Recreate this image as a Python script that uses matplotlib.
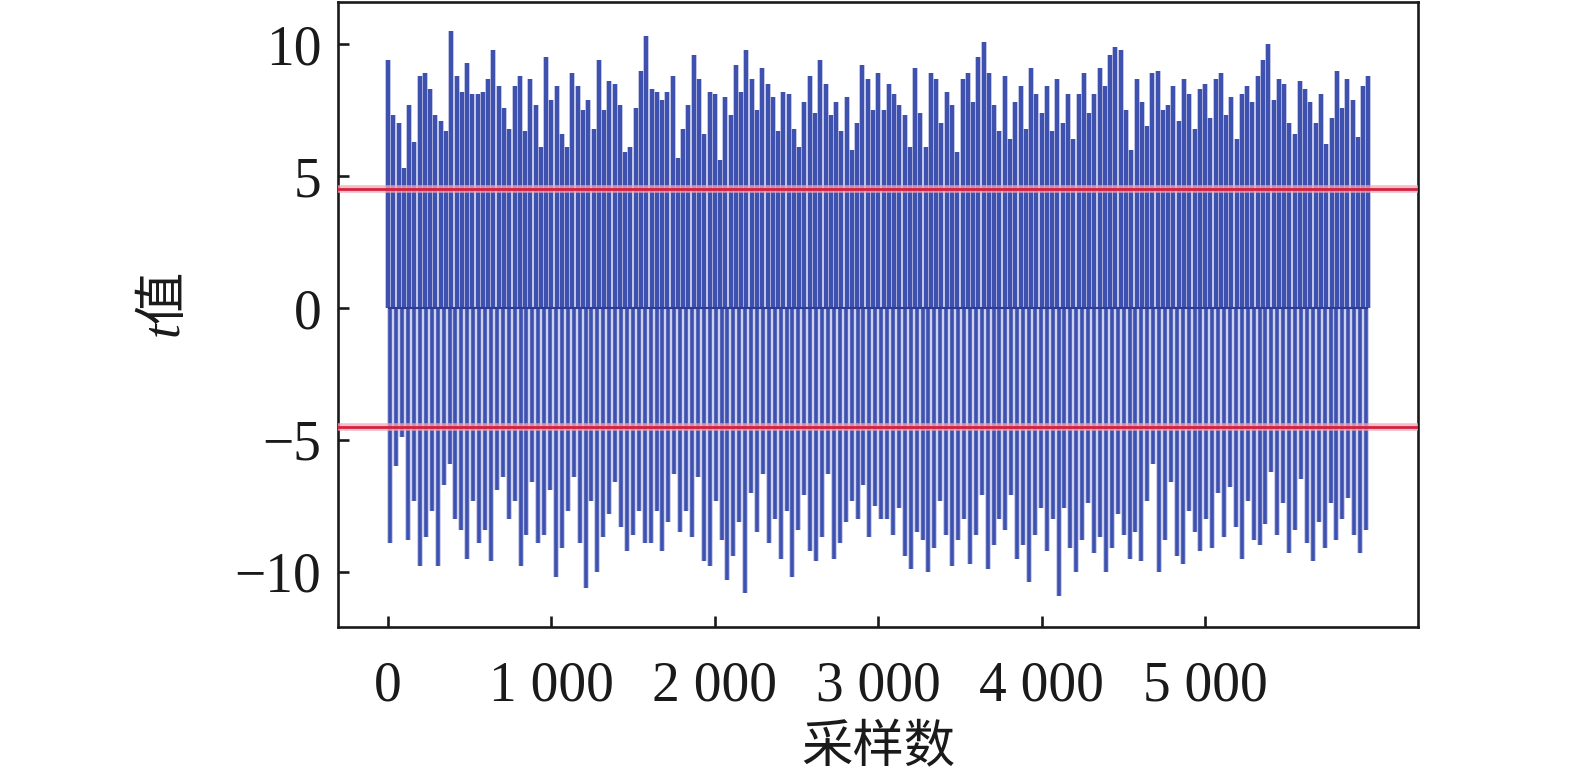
import numpy as np
import matplotlib
matplotlib.use("Agg")
import matplotlib.pyplot as plt

# ---- data (approximate t values) ----
upper_t = [
    9.4, 7.3, 7.0, 5.3, 7.7, 6.3, 8.8, 8.9, 8.3, 7.3, 7.1, 6.7, 10.5, 8.8, 8.2, 9.3, 8.1, 8.1, 8.2, 8.7,
    9.8, 8.4, 7.6, 6.8, 8.4, 8.8, 6.7, 8.7, 7.7, 6.1, 9.5, 7.9, 8.4, 6.6, 6.1, 8.9, 8.4, 7.5, 7.9, 6.8,
    9.4, 7.5, 8.6, 8.5, 7.7, 5.9, 6.1, 7.6, 9.0, 10.3, 8.3, 8.2, 7.9,
    8.2, 8.8, 5.7, 6.8, 7.7, 9.6, 8.7, 6.6, 8.2, 8.1, 5.6, 8.0, 7.3, 9.2, 8.2, 9.8, 8.7, 7.5, 9.1, 8.5,
    8.0, 6.7, 8.2, 8.1, 6.8, 6.1, 7.8, 8.8, 7.4, 9.4, 8.5, 7.3, 7.8, 6.7, 8.0, 6.0, 7.0, 9.2, 8.7, 7.5,
    8.9, 7.5, 8.5, 8.1, 7.7, 7.3, 6.1, 9.1, 7.4, 6.1, 8.9, 8.7, 7.0, 8.2, 7.7, 5.9, 8.7, 8.9, 7.8, 9.5,
    10.1, 8.9, 7.7, 6.7, 8.8, 6.4, 7.8, 8.4, 6.8, 9.1, 8.1, 7.4, 8.4, 6.7, 8.7, 7.0, 8.1, 6.4, 8.1, 8.9,
    7.4, 8.1, 9.1, 8.4, 9.6,
    9.9, 9.8, 7.5, 6.0, 8.7, 7.8, 6.9, 8.9, 9.0, 7.5, 7.7, 8.4, 7.1, 8.7, 8.1, 6.8, 8.3, 8.5, 7.2, 8.7,
    8.9, 7.3, 8.0, 6.4, 8.1, 8.4, 7.8, 8.8, 9.4, 10.0, 7.9, 8.7, 8.5, 7.0, 6.6, 8.6, 8.3, 7.8, 7.0, 8.1,
    6.2, 7.2, 9.0, 7.6, 8.7, 7.9, 6.5, 8.4, 8.8,
]
lower_t = [
    -8.9, -6.0, -4.9, -8.8, -7.3, -9.8, -8.7, -7.7, -9.8, -6.7, -5.9, -8.0, -8.4, -9.5, -7.3, -8.9, -8.4, -9.6, -6.9, -6.4,
    -8.0, -7.3, -9.8, -8.6, -6.6, -8.9, -8.6, -6.9, -10.2, -9.1, -7.7, -6.4, -8.9, -10.6, -7.3, -10.0, -8.7, -7.8, -6.6, -8.3,
    -9.2, -8.6, -7.7, -8.9,
    -8.9, -7.7, -9.2, -8.1, -6.3, -8.5, -7.7, -8.7, -6.4, -9.6, -9.8, -7.3, -8.8, -10.3, -9.4, -8.1, -10.8, -7.0, -8.5, -6.3,
    -8.9, -8.0, -9.5, -7.7, -10.2, -8.4, -7.1, -9.2, -9.6, -8.7, -6.3, -9.5, -8.9, -8.1, -7.3, -8.0, -6.7, -8.7, -7.5, -8.0,
    -8.0, -8.6, -7.6, -9.4, -9.9, -8.5, -8.8, -10.0, -9.1, -7.3, -8.6, -9.8, -8.8, -8.0, -9.7, -8.6, -7.1, -9.9, -9.0, -8.0,
    -8.4, -7.1, -9.5, -9.0, -10.4, -8.6, -7.6, -9.2, -8.0, -10.9, -7.6, -9.1, -10.0, -8.8, -7.4, -9.3, -8.7, -10.0, -9.1, -7.8,
    -8.6, -9.5,
    -8.5, -9.6, -7.3, -5.9, -10.0, -8.8, -6.6, -9.4, -9.7, -7.7, -8.5, -9.2, -8.0, -9.1, -7.0, -8.7, -6.8, -8.3, -9.5, -7.3,
    -8.8, -9.0, -8.2, -6.2, -8.6, -7.4, -9.3, -8.4, -6.5, -8.9, -9.6, -8.1, -9.1, -7.4, -8.8, -8.0, -7.2, -8.6, -9.3, -8.4,
]
n_samples = 6000
threshold = 4.53
yticks = [-10, -5, 0, 5, 10]
ytick_labels = ["\u221210", "\u22125", "0", "5", "10"]
xticks = [0, 1000, 2000, 3000, 4000, 5000]
xtick_labels = ["0", "1 000", "2 000", "3 000", "4 000", "5 000"]
xlabel = "采样数"
ylabel = "t值"

plt.rcParams["font.family"] = ["Liberation Serif", "Noto Sans CJK SC"]

fig = plt.figure(figsize=(15.75, 7.82), dpi=100)
ax = fig.add_axes([0.2146, 0.198, 0.9003 - 0.2146, 0.9974 - 0.198])

x_up = np.linspace(0, n_samples, len(upper_t))
x_lo = np.linspace(15, n_samples - 15, len(lower_t))

blue = "#3246aa"
light = "#b3b9e2"
ax.vlines(x_up, 0, upper_t, color=light, lw=4.2, alpha=0.7, zorder=1)
ax.vlines(x_lo, 0, lower_t, color=light, lw=4.2, alpha=0.7, zorder=1)
ax.vlines(x_up, 0, upper_t, color=blue, lw=3.0, alpha=0.92, zorder=2)
ax.vlines(x_lo, 0, lower_t, color=blue, lw=2.6, alpha=0.92, zorder=2)
ax.hlines(0, x_up[0], x_up[-1], color="#2d3b96", lw=1.5, zorder=3)

for yv in (threshold, -threshold):
    ax.axhline(yv, color="#f2a7b6", lw=5.5, alpha=0.75, zorder=4)
    ax.axhline(yv, color="#d4213f", lw=2.0, zorder=5)

ax.set_xlim(-306, 6303)
ax.set_ylim(-12.1, 11.6)
ax.set_yticks(yticks)
ax.set_yticklabels(ytick_labels)
ax.set_xticks(xticks)
ax.set_xticklabels(xtick_labels)

for s in ax.spines.values():
    s.set_linewidth(1.9)
    s.set_color("#1a1a1a")
ax.tick_params(axis="both", direction="in", length=8, width=1.9, labelsize=40, colors="#1a1a1a")
ax.tick_params(axis="y", pad=12)
ax.tick_params(axis="x", pad=24)

ax.set_xlabel(xlabel, fontsize=37, family="Noto Sans CJK SC", color="#1a1a1a", labelpad=6)
ax.set_ylabel(ylabel, fontsize=38, style="italic", color="#1a1a1a")
ax.yaxis.set_label_coords(-0.138, 0.52)

fig.savefig("out.png", dpi=100)
